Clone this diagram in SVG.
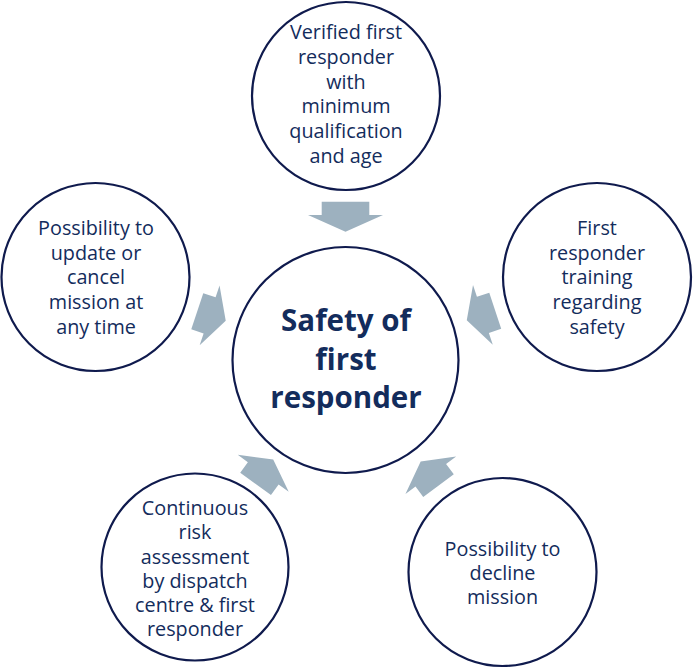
<svg xmlns="http://www.w3.org/2000/svg" width="693" height="668" viewBox="0 0 693 668">
<defs>
<style>
.c{fill:#ffffff;stroke:#0f1a4d;stroke-width:2.2}
.t{font-family:"Open Sans","Liberation Sans",sans-serif;font-size:19.8px;fill:#132c5c;text-anchor:middle}
.m{font-family:"Open Sans","Liberation Sans",sans-serif;font-size:29.5px;font-weight:bold;fill:#132c5c;text-anchor:middle}
.a{fill:#9db1bf}
</style>
<polygon id="arrowBig" points="-15,-23.8 -1.7,-23.8 -1.7,-37.5 15,0 -1.7,37.5 -1.7,23.8 -15,23.8"/>
<polygon id="arrowSm" points="-15,-19 -2,-19 -2,-31.5 15,0 -2,31.5 -2,19 -15,19"/>
</defs>
<rect width="693" height="668" fill="#ffffff"/>
<g id="connectors">
<use href="#arrowBig" class="a" transform="translate(345.5,216.7) rotate(90)"/>
<use href="#arrowSm" class="a" transform="translate(211.5,316) rotate(18.4)"/>
<use href="#arrowSm" class="a" transform="translate(481,315.5) rotate(161.7)"/>
<use href="#arrowSm" class="a" transform="translate(264.4,471.7) rotate(-54)"/>
<use href="#arrowSm" class="a" transform="translate(429.6,473.6) rotate(-126.5)"/>
</g>
<g id="center">
<circle class="c" cx="345.5" cy="360" r="113"/>
<text class="m" x="346" y="331">Safety of</text>
<text class="m" x="346" y="369.5">first</text>
<text class="m" x="346" y="408">responder</text>
</g>
<g id="top">
<circle class="c" cx="346" cy="96" r="94"/>
<text class="t" x="346" y="39">Verified first</text>
<text class="t" x="346" y="63.5">responder</text>
<text class="t" x="346" y="88.5">with</text>
<text class="t" x="346" y="113">minimum</text>
<text class="t" x="346" y="138">qualification</text>
<text class="t" x="346" y="163">and age</text>
</g>
<g id="left">
<circle class="c" cx="95.5" cy="277" r="94"/>
<text class="t" x="96" y="234.5">Possibility to</text>
<text class="t" x="96" y="259.5">update or</text>
<text class="t" x="96" y="283.5">cancel</text>
<text class="t" x="96" y="308.5">mission at</text>
<text class="t" x="96" y="333.5">any time</text>
</g>
<g id="right">
<circle class="c" cx="597" cy="277" r="94"/>
<text class="t" x="597" y="234.5">First</text>
<text class="t" x="597" y="259.5">responder</text>
<text class="t" x="597" y="283.5">training</text>
<text class="t" x="597" y="308.5">regarding</text>
<text class="t" x="597" y="333.5">safety</text>
</g>
<g id="bottomLeft">
<circle class="c" cx="195" cy="567" r="93.5"/>
<text class="t" x="195" y="515">Continuous</text>
<text class="t" x="195" y="539">risk</text>
<text class="t" x="195" y="563.5">assessment</text>
<text class="t" x="195" y="588">by dispatch</text>
<text class="t" x="195" y="612">centre &amp; first</text>
<text class="t" x="195" y="636">responder</text>
</g>
<g id="bottomRight">
<circle class="c" cx="502.5" cy="572" r="94"/>
<text class="t" x="502.5" y="555.5">Possibility to</text>
<text class="t" x="502.5" y="580">decline</text>
<text class="t" x="502.5" y="604">mission</text>
</g>
</svg>
